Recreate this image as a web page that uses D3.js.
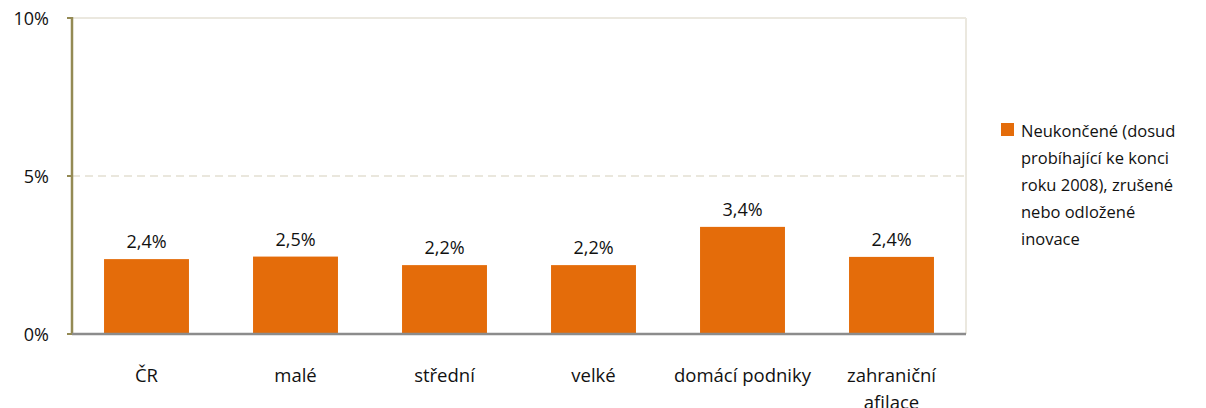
<!DOCTYPE html>
<html>
<head>
<meta charset="utf-8">
<style>
  body { margin: 0; background: #fff; }
  text { font-family: "Open Sans", sans-serif; fill: #111; }
</style>
</head>
<body>
<script src="https://d3js.org/d3.v7.min.js"></script>
<svg id="chart" width="1206" height="408"></svg>
<script>
var categories = ["ČR", "malé", "střední", "velké", "domácí podniky", "zahraniční afilace"];
var values = [2.37, 2.45, 2.18, 2.18, 3.39, 2.44];
var valueLabels = ["2,4%", "2,5%", "2,2%", "2,2%", "3,4%", "2,4%"];
var yTicks = [0, 5, 10];
var yTickLabels = ["0%", "5%", "10%"];
var legendLines = ["Neukončené (dosud", "probíhající ke konci", "roku 2008), zrušené", "nebo odložené", "inovace"];

var svg = d3.select("#chart");
var plotLeft = 72, plotRight = 966, plotTop = 18, plotBottom = 334;

var x = d3.scaleBand().domain(categories).range([plotLeft, plotRight]).paddingInner(0.43).paddingOuter(0.215);
var y = d3.scaleLinear().domain([0, 10]).range([plotBottom, plotTop]);

// plot border (top/right)
svg.append("line").attr("x1", plotLeft).attr("x2", plotRight).attr("y1", plotTop).attr("y2", plotTop)
    .attr("stroke", "#ebe8df").attr("stroke-width", 2);
svg.append("line").attr("x1", plotRight).attr("x2", plotRight).attr("y1", plotTop).attr("y2", plotBottom)
    .attr("stroke", "#ebe8df").attr("stroke-width", 2);

// gridline at 5%
svg.append("line").attr("x1", plotLeft).attr("x2", plotRight).attr("y1", y(5)).attr("y2", y(5))
    .attr("stroke", "#e3e0d2").attr("stroke-width", 1.5).attr("stroke-dasharray", "8,5");

// bars
svg.selectAll("rect.bar").data(values).enter().append("rect")
    .attr("class", "bar")
    .attr("x", (d, i) => x(categories[i]))
    .attr("width", x.bandwidth())
    .attr("y", d => y(d))
    .attr("height", d => y(0) - y(d))
    .attr("fill", "#e46c0a");

// value labels
svg.selectAll("text.val").data(values).enter().append("text")
    .attr("class", "val")
    .attr("x", (d, i) => x(categories[i]) + x.bandwidth() / 2)
    .attr("y", d => y(d) - 11)
    .attr("text-anchor", "middle")
    .style("font-size", "18px")
    .text((d, i) => valueLabels[i]);

// y axis
svg.append("line").attr("x1", plotLeft).attr("x2", plotLeft).attr("y1", plotTop - 1).attr("y2", plotBottom)
    .attr("stroke", "#948a54").attr("stroke-width", 2.5);
svg.selectAll("line.ytick").data(yTicks).enter().append("line")
    .attr("x1", plotLeft - 5).attr("x2", plotLeft).attr("y1", d => y(d)).attr("y2", d => y(d))
    .attr("stroke", "#948a54").attr("stroke-width", 2);
svg.selectAll("text.ytl").data(yTicks).enter().append("text")
    .attr("x", 49).attr("y", d => y(d) + 7)
    .attr("text-anchor", "end")
    .style("font-size", "18px")
    .text((d, i) => yTickLabels[i]);

// x axis
svg.append("line").attr("x1", plotLeft).attr("x2", plotRight).attr("y1", plotBottom).attr("y2", plotBottom)
    .attr("stroke", "#8c8c8c").attr("stroke-width", 2.5);

// category labels (wrapped)
categories.forEach(function(c, i) {
    var cx = x(c) + x.bandwidth() / 2;
    var lines = (c === "zahraniční afilace") ? ["zahraniční", "afilace"] : [c];
    var t = svg.append("text").attr("x", cx).attr("y", 382).attr("text-anchor", "middle")
        .style("font-size", "18.5px");
    lines.forEach(function(l, j) {
        t.append("tspan").attr("x", cx).attr("dy", j === 0 ? 0 : 27).text(l);
    });
});

// legend
svg.append("rect").attr("x", 1001).attr("y", 123).attr("width", 13).attr("height", 13).attr("fill", "#e46c0a");
var lt = svg.append("text").attr("x", 1021).attr("y", 137).style("font-size", "16.5px");
legendLines.forEach(function(l, j) {
    lt.append("tspan").attr("x", 1021).attr("dy", j === 0 ? 0 : 27).text(l);
});
</script>
</body>
</html>
